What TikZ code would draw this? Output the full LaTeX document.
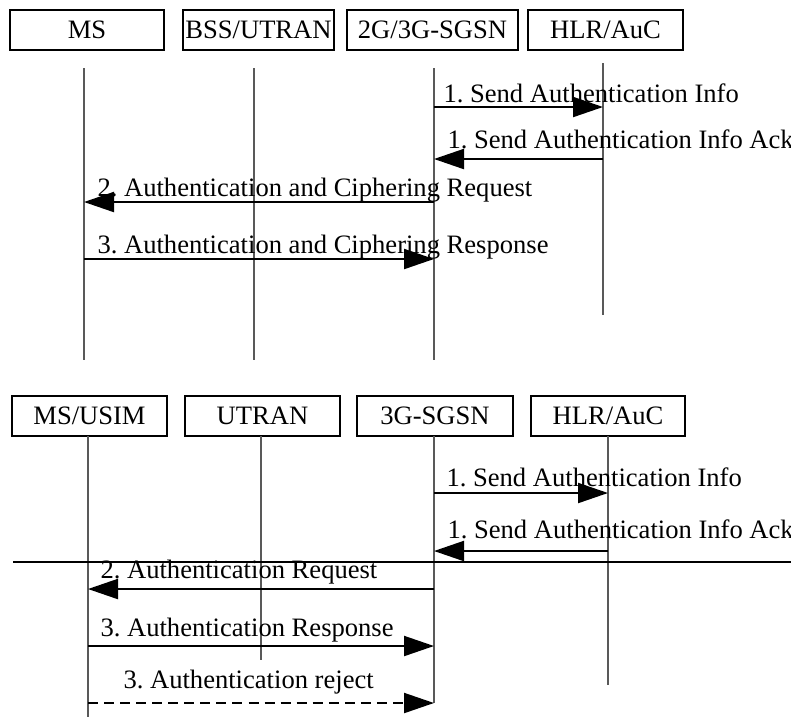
\documentclass[tikz,border=0pt]{standalone}
\usepackage{fontspec}
\setmainfont{Liberation Serif}
\frenchspacing
\usetikzlibrary{arrows.meta}

\begin{document}
\begin{tikzpicture}[x=0.38pt,y=-0.38pt,line join=miter,
  font=\fontsize{10.1}{12}\selectfont,
  entity/.style={draw,line width=0.8pt,minimum height=15.2pt,inner sep=0pt},
  life/.style={black!65,line width=0.4pt},
  msg/.style={line width=0.8pt,-{Triangle[length=11.4pt,width=7.6pt]}},
  lbl/.style={anchor=base west,inner sep=0pt}]
\path[use as bounding box] (0,0) rectangle (791,717);

% upper chart: 2G/3G
\node[entity,minimum width=58.5pt] (ms)  at (87,30)    {MS};
\node[entity,minimum width=57.4pt] (bss) at (258.5,30) {BSS/UTRAN};
\node[entity,minimum width=65pt]   (sgsn) at (432.5,30) {2G/3G-SGSN};
\node[entity,minimum width=58.9pt] (hlr) at (605.5,30) {HLR/AuC};

\coordinate (ms1) at (84,68);    \coordinate (ms1e) at (84,360);
\coordinate (bss1) at (254,68);  \coordinate (bss1e) at (254,360);
\coordinate (sg1) at (434,68);   \coordinate (sg1e) at (434,360);
\coordinate (hlr1) at (603,63);  \coordinate (hlr1e) at (603,315);
\foreach \a in {ms1,bss1,sg1,hlr1}
  \draw[life] (\a) -- (\a e);

\coordinate (m1) at (0,107);
\coordinate (m2) at (0,159);
\coordinate (m3) at (0,202);
\coordinate (m4) at (0,259);
\draw[msg] (sg1 |- m1) -- (hlr1 |- m1);
\node[lbl] (t1) at (443,102) {1. Send Authentication Info};
\draw[msg] (hlr1 |- m2) -- (sg1 |- m2);
\node[lbl] (t2) at (447,148) {1. Send Authentication Info Ack};
\draw[msg] (sg1 |- m3) -- (ms1 |- m3);
\node[lbl] (t3) at (97,196) {2. Authentication and Ciphering Request};
\draw[msg] (ms1 |- m4) -- (sg1 |- m4);
\node[lbl] (t4) at (97,253) {3. Authentication and Ciphering Response};

% lower chart: 3G only
\node[entity,minimum width=58.9pt] (usim) at (89.5,416) {MS/USIM};
\node[entity,minimum width=58.9pt] (utran) at (262.5,416) {UTRAN};
\node[entity,minimum width=59.3pt] (sgsn3) at (435,416) {3G-SGSN};
\node[entity,minimum width=58.5pt] (hlr3) at (608,416) {HLR/AuC};

\coordinate (ms2) at (88,436);   \coordinate (ms2e) at (88,717);
\coordinate (ut2) at (261,436);  \coordinate (ut2e) at (261,660);
\coordinate (sg2) at (434,436);  \coordinate (sg2e) at (434,703);
\coordinate (hlr2) at (608,436); \coordinate (hlr2e) at (608,685);
\foreach \a in {ms2,ut2,sg2,hlr2}
  \draw[life] (\a) -- (\a e);

\coordinate (sepL) at (13,562);
\coordinate (sepR) at (791,562);
\draw[line width=0.8pt] (sepL) -- (sepR);

\coordinate (n1) at (0,493);
\coordinate (n2) at (0,551);
\coordinate (n3) at (0,589);
\coordinate (n4) at (0,646);
\coordinate (n5) at (0,703);
\draw[msg] (sg2 |- n1) -- (hlr2 |- n1);
\node[lbl] (u1) at (446,486) {1. Send Authentication Info};
\draw[msg] (hlr2 |- n2) -- (sg2 |- n2);
\node[lbl] (u2) at (447,538) {1. Send Authentication Info Ack};
\draw[msg] (sg2 |- n3) -- (ms2 |- n3);
\node[lbl] (u3) at (100,578) {2. Authentication Request};
\draw[msg] (ms2 |- n4) -- (sg2 |- n4);
\node[lbl] (u4) at (100,636) {3. Authentication Response};
\draw[msg,dash pattern=on 3.8pt off 2.3pt] (ms2 |- n5) -- (sg2 |- n5);
\node[lbl] (u5) at (123,688) {3. Authentication reject};
\end{tikzpicture}
\end{document}
